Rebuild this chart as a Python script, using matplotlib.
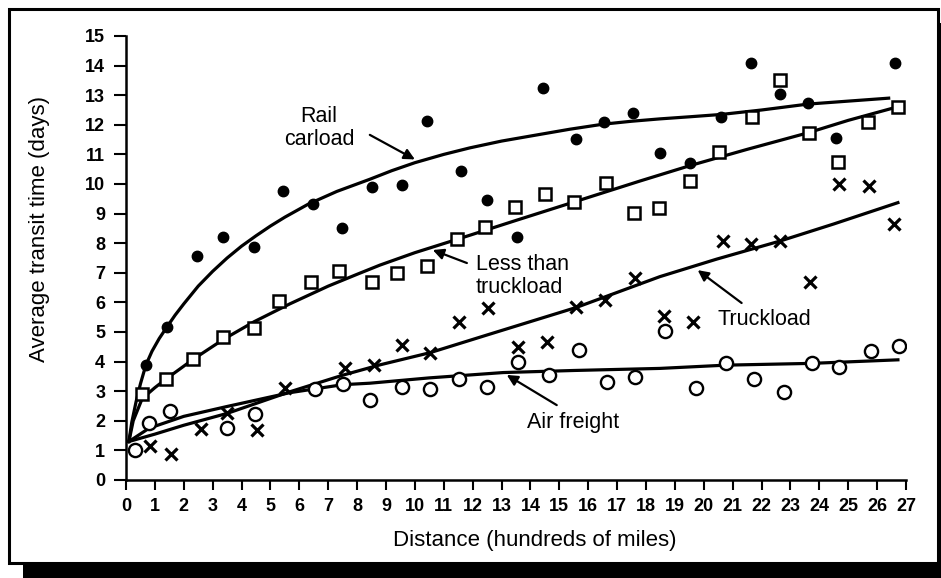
import matplotlib
matplotlib.use("Agg")
import matplotlib.pyplot as plt
from matplotlib.patches import Rectangle

plt.rcParams['font.family'] = ['Liberation Sans', 'DejaVu Sans']

# scatter data (distance in hundreds of miles, days)
rail_x = [0.69, 1.41, 2.45, 3.37, 4.44, 5.42, 6.46, 7.46, 8.5, 9.56, 10.43, 11.58, 12.5,
          13.54, 14.44, 15.56, 16.54, 17.55, 18.5, 19.52, 20.61, 21.65, 22.63, 23.61, 24.59, 26.61]
rail_y = [3.89, 5.16, 7.57, 8.22, 7.86, 9.77, 9.31, 8.5, 9.91, 9.97, 12.14, 10.44, 9.46,
          8.2, 13.25, 11.52, 12.08, 12.39, 11.06, 10.7, 12.25, 14.08, 13.04, 12.75, 11.54, 14.1]

ltl_x = [0.56, 1.37, 2.33, 3.37, 4.44, 5.3, 6.42, 7.38, 8.5, 9.39, 10.43, 11.46, 12.42, 13.46,
         14.52, 15.5, 16.6, 17.58, 18.45, 19.52, 20.52, 21.67, 22.65, 23.63, 24.65, 25.69, 26.72]
ltl_y = [2.9, 3.4, 4.08, 4.82, 5.12, 6.05, 6.7, 7.07, 6.7, 7.0, 7.24, 8.13, 8.56, 9.23,
         9.65, 9.39, 10.04, 9.03, 9.19, 10.1, 11.07, 12.27, 13.51, 11.73, 10.75, 12.08, 12.61]

truck_x = [0.83, 1.55, 2.58, 3.5, 4.55, 5.5, 7.58, 8.58, 9.54, 10.52, 11.53, 12.54, 13.57,
           14.56, 15.59, 16.57, 17.61, 18.62, 19.61, 20.65, 21.65, 22.63, 23.67, 24.68, 25.71, 26.57]
truck_y = [1.15, 0.88, 1.71, 2.27, 1.69, 3.1, 3.77, 3.9, 4.56, 4.28, 5.35, 5.82, 4.5,
           4.67, 5.83, 6.08, 6.81, 5.55, 5.35, 8.07, 7.97, 8.07, 6.7, 9.99, 9.94, 8.65]

air_x = [0.31, 0.81, 1.52, 3.48, 4.46, 6.54, 7.52, 8.44, 9.57, 10.54, 11.53, 12.5, 13.57,
         14.65, 15.67, 16.66, 17.63, 18.65, 19.72, 20.76, 21.73, 22.77, 23.73, 24.67, 25.8, 26.76]
air_y = [1.01, 1.92, 2.33, 1.75, 2.23, 3.06, 3.24, 2.7, 3.13, 3.06, 3.41, 3.13, 4.0,
         3.55, 4.39, 3.3, 3.49, 5.03, 3.12, 3.96, 3.41, 2.98, 3.96, 3.83, 4.37, 4.54]

# trend curves
rail_cx = [0.1, 0.2, 0.35, 0.5, 0.69, 0.9, 1.15, 1.41, 1.7, 2.0, 2.5, 3.0, 3.5, 4.0, 4.5, 5.0,
           5.5, 6.31, 7.3, 8.44, 9.2, 10.0, 11.0, 11.9, 13.0, 14.0, 15.36, 16.51, 17.5,
           18.48, 19.5, 20.61, 22.0, 23.61, 25.0, 26.4]
rail_cy = [1.3, 1.95, 2.65, 3.25, 3.89, 4.35, 4.78, 5.16, 5.57, 5.95, 6.55, 7.05, 7.5, 7.9,
           8.25, 8.58, 8.88, 9.32, 9.75, 10.16, 10.45, 10.72, 11.0, 11.22, 11.45, 11.62,
           11.85, 12.02, 12.12, 12.2, 12.27, 12.35, 12.5, 12.7, 12.8, 12.9]

ltl_cx = [0.1, 0.25, 0.56, 1.0, 1.37, 2.33, 3.37, 4.44, 5.67, 7.0, 8.0, 8.79, 10.0, 11.46,
          13.5, 15.5, 17.79, 19.52, 21.5, 23.61, 25.0, 26.72]
ltl_cy = [1.3, 2.0, 2.75, 3.12, 3.4, 4.08, 4.75, 5.35, 5.95, 6.55, 6.95, 7.26, 7.68, 8.13,
          8.77, 9.39, 10.1, 10.62, 11.17, 11.73, 12.15, 12.61]

truck_cx = [0.1, 1.0, 2.0, 3.5, 5.67, 7.5, 8.79, 10.52, 12.5, 15.59, 18.48, 20.44, 22.63, 24.5, 26.72]
truck_cy = [1.3, 1.55, 1.85, 2.25, 2.98, 3.54, 3.89, 4.3, 4.9, 5.83, 6.87, 7.46, 8.07, 8.65, 9.37]

air_cx = [0.1, 0.8, 2.0, 3.48, 5.67, 7.5, 8.44, 10.5, 13.06, 15.5, 18.48, 20.76, 23.73, 26.72]
air_cy = [1.3, 1.75, 2.15, 2.48, 2.95, 3.22, 3.27, 3.45, 3.63, 3.7, 3.77, 3.88, 3.94, 4.06]

fig = plt.figure(figsize=(9.41, 5.78), dpi=100)

# shadow + frame
fig.patches.append(Rectangle((23/941, 0), 1, 1 - 23/578, transform=fig.transFigure,
                             facecolor='black', edgecolor='none', zorder=-2))
fig.patches.append(Rectangle((9/941, 1 - 563/578), (938 - 9)/941, (563 - 9)/578,
                             transform=fig.transFigure, facecolor='white',
                             edgecolor='black', lw=2.2, zorder=-1))

ax = fig.add_axes([126/941, 1 - 480/578, 780/941, 444/578])
ax.patch.set_alpha(0)

lw = 2.3
ax.plot(rail_cx, rail_cy, color='black', lw=lw)
ax.plot(ltl_cx, ltl_cy, color='black', lw=lw)
ax.plot(truck_cx, truck_cy, color='black', lw=lw)
ax.plot(air_cx, air_cy, color='black', lw=lw)

ax.plot(rail_x, rail_y, 'o', ms=7.5, color='black', ls='none')
ax.plot(ltl_x, ltl_y, 's', ms=9, mfc='white', mec='black', mew=1.8, ls='none')
ax.plot(truck_x, truck_y, 'x', ms=8, mec='black', mew=2.3, ls='none')
ax.plot(air_x, air_y, 'o', ms=9.5, mfc='white', mec='black', mew=1.7, ls='none')

ax.set_xlim(0, 27)
ax.set_ylim(0, 15)
ax.set_xticks(range(0, 28))
ax.set_yticks(range(0, 16))
ax.spines['top'].set_visible(False)
ax.spines['right'].set_visible(False)
ax.spines['left'].set_linewidth(1.8)
ax.spines['bottom'].set_linewidth(1.8)
ax.tick_params(direction='out', width=1.5, labelsize=13)
ax.tick_params(axis='x', length=7, pad=6)
ax.tick_params(axis='y', length=9, pad=6)
for t in ax.get_xticklabels() + ax.get_yticklabels():
    t.set_fontweight('bold')

fs = 15.5
ax.set_xlabel('Distance (hundreds of miles)', fontsize=fs + 0.5)
ax.set_ylabel('Average transit time (days)', fontsize=fs + 0.5)
ax.xaxis.set_label_coords(0.524, -0.113)
ax.yaxis.set_label_coords(-0.098, 0.566)

arrow = dict(arrowstyle='-|>', color='black', lw=1.6, mutation_scale=16, shrinkA=0, shrinkB=0)
ax.text(6.68, 11.89, 'Rail\ncarload', fontsize=fs, ha='center', va='center', linespacing=1.15)
ax.annotate('', xy=(10.0, 10.83), xytext=(8.44, 11.66), arrowprops=arrow)

ax.text(12.11, 6.89, 'Less than\ntruckload', fontsize=fs, ha='left', va='center', linespacing=1.15)
ax.annotate('', xy=(10.62, 7.77), xytext=(11.8, 7.33), arrowprops=arrow)

ax.text(20.48, 5.41, 'Truckload', fontsize=fs, ha='left', va='center')
ax.annotate('', xy=(19.79, 7.09), xytext=(21.31, 5.98), arrowprops=arrow)

ax.text(13.88, 1.93, 'Air freight', fontsize=fs, ha='left', va='center')
ax.annotate('', xy=(13.18, 3.55), xytext=(14.91, 2.53), arrowprops=arrow)

fig.savefig('out.png', dpi=100)
